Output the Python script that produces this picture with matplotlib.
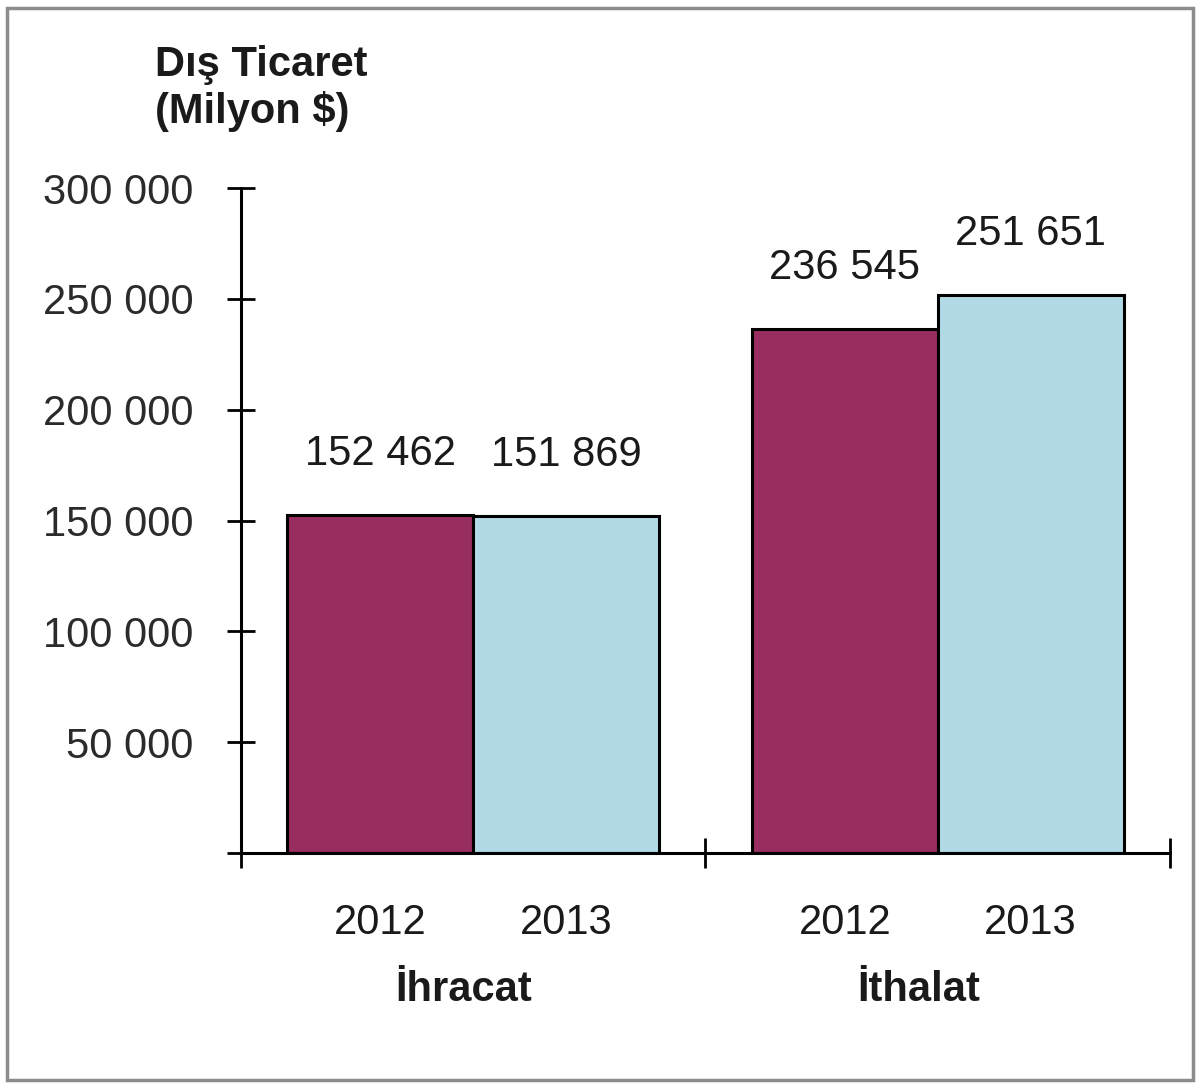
import matplotlib.pyplot as plt
from matplotlib.patches import Rectangle

plt.rcParams['font.family'] = ['Liberation Sans', 'DejaVu Sans']

# Dış ticaret verileri (milyon $)
gruplar = ["İhracat", "İthalat"]
yillar = ["2012", "2013"]
degerler_2012 = [152462, 236545]
degerler_2013 = [151869, 251651]
y_ticks = [0, 50000, 100000, 150000, 200000, 250000, 300000]
y_etiketler = ["", "50 000", "100 000", "150 000", "200 000", "250 000", "300 000"]

renk_2012 = "#982d60"
renk_2013 = "#b2dae6"

fig = plt.figure(figsize=(12, 10.87), dpi=100)
ax = fig.add_axes([0.2008, 0.2153, 0.7742, 0.6117])

genislik = 0.4
x0 = [i + 0.3 for i in range(len(gruplar))]
x1 = [i + 0.7 for i in range(len(gruplar))]

b1 = ax.bar(x0, degerler_2012, width=genislik, color=renk_2012,
            edgecolor="black", linewidth=2.2)
b2 = ax.bar(x1, degerler_2013, width=genislik, color=renk_2013,
            edgecolor="black", linewidth=2.2)

def fmt(v):
    return f"{v:,}".replace(",", " ")

for barlar in (b1, b2):
    for b in barlar:
        ax.annotate(fmt(int(b.get_height())),
                    (b.get_x() + b.get_width() / 2, b.get_height()),
                    xytext=(0, 44), textcoords="offset points",
                    ha="center", va="center", fontsize=30, color="#1a1a1a")

ax.set_xlim(0, len(gruplar))
ax.set_ylim(0, 300000)

for s in ("top", "right"):
    ax.spines[s].set_visible(False)
for s in ("left", "bottom"):
    ax.spines[s].set_linewidth(2.2)

ax.set_yticks(y_ticks)
ax.set_yticklabels(y_etiketler)
ax.tick_params(axis="y", direction="inout", length=20, width=2, pad=24,
               labelsize=30, labelcolor="#2b2b2b")

ax.set_xticks(range(len(gruplar) + 1))
ax.set_xticklabels([])
ax.tick_params(axis="x", which="major", direction="inout", length=22, width=2)

ax.set_xticks(x0 + x1, minor=True)
ax.set_xticklabels(yillar[:1] * len(gruplar) + yillar[1:] * len(gruplar), minor=True)
ax.tick_params(axis="x", which="minor", length=0, pad=36, labelsize=30,
               labelcolor="#1a1a1a")

grup_x = [0.48, 1.46]
for gx, g in zip(grup_x, gruplar):
    ax.annotate(g, (gx, 0), xycoords=("data", "axes fraction"),
                xytext=(0, -99), textcoords="offset points",
                ha="center", va="center", fontsize=30, fontweight="bold",
                color="#1a1a1a")

fig.text(0.129, 1 - 45 / 1087, "Dış Ticaret\n(Milyon $)", ha="left", va="top",
         fontsize=30, fontweight="bold", color="#1a1a1a", linespacing=1.2)

# Çerçeve
fig.patches.append(Rectangle((0.006, 0.006), 0.988, 0.987, transform=fig.transFigure,
                             fill=False, edgecolor="#8c8c8c", linewidth=2.5))

fig.savefig("out.png", dpi=100)
